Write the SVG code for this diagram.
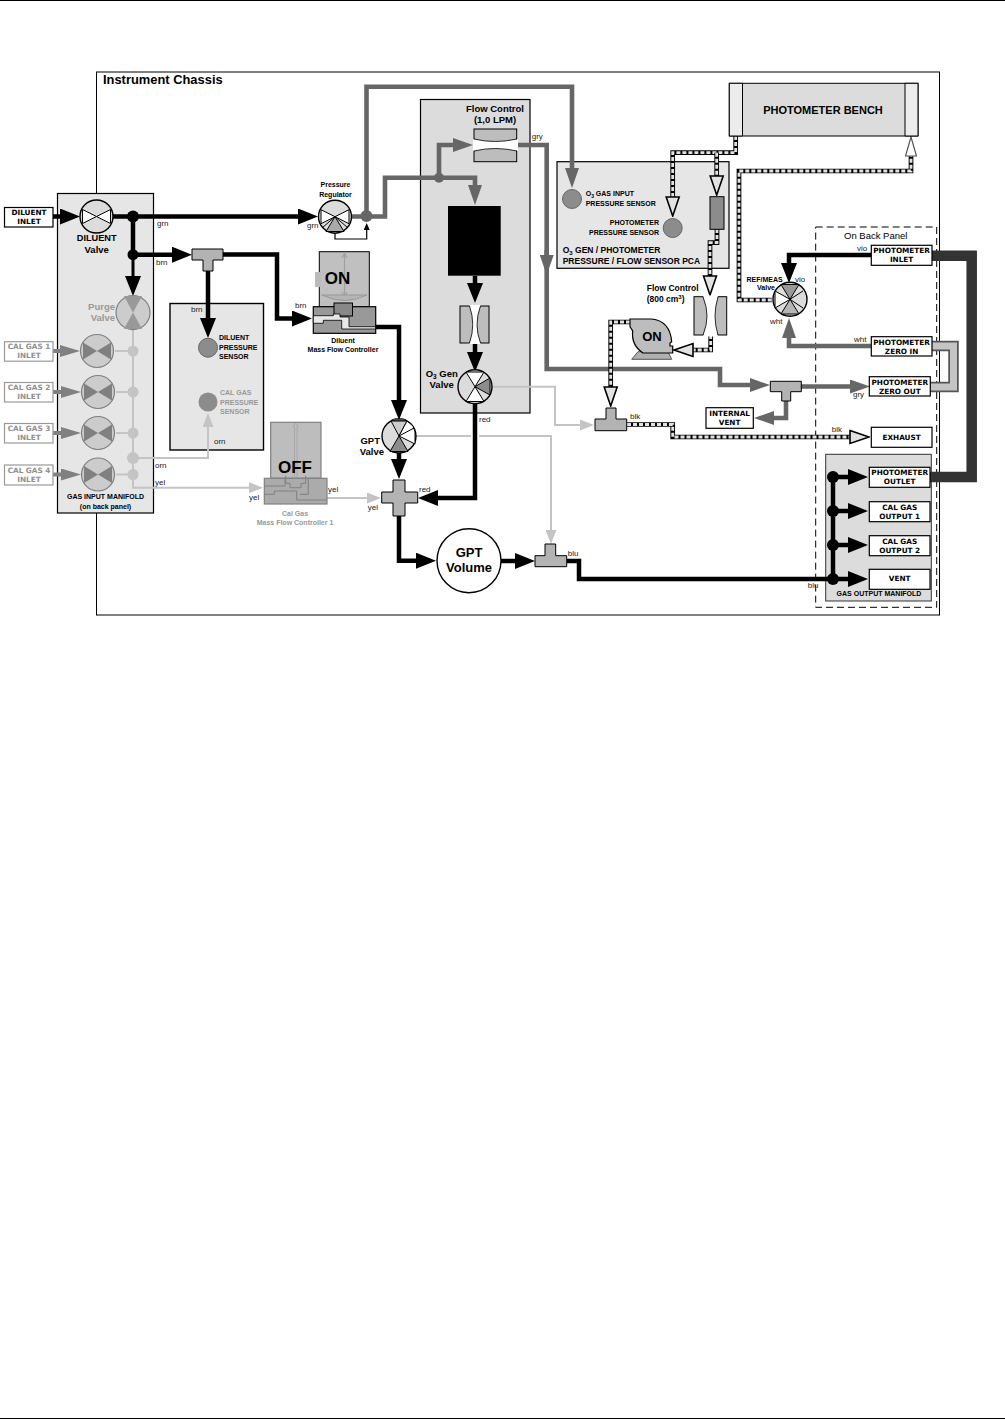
<svg xmlns="http://www.w3.org/2000/svg" xmlns:xlink="http://www.w3.org/1999/xlink" width="1005" height="1420" viewBox="0 0 1005 1420">
<style>
text{font-family:"Liberation Sans",Arial,sans-serif;fill:#000}
.b{font-weight:bold}.m{text-anchor:middle}.e{text-anchor:end}
.s7{font-size:7px}.s8{font-size:8.5px}.s9{font-size:9.5px}.l{font-size:8px;fill:#222}
.v{font-family:"DejaVu Sans",Verdana,sans-serif;font-weight:bold;font-size:7.3px;text-anchor:middle}
.g{fill:#999}.v.g{fill:#909090}
.box{fill:#fff;stroke:#000;stroke-width:1.2}.gbox{fill:#fff;stroke:#999;stroke-width:1.2}
.panel{fill:#e6e6e6;stroke:#000;stroke-width:1.2}.panel2{fill:#dcdcdc;stroke:#000;stroke-width:1.2}
.tee{fill:#b3b3b3;stroke:#000;stroke-width:1}
.k,.kt,.gy,.gc,.lt,.dk,.dl{fill:none}
.k{stroke:#000;stroke-width:4.5}.kt{stroke:#000;stroke-width:3}
.gy{stroke:#666;stroke-width:4.6}.gc{stroke:#808080;stroke-width:4}.lt{stroke:#c4c4c4;stroke-width:2}
.dk{stroke:#000;stroke-width:4.7}.dl{stroke:#e2e2e2;stroke-width:2.8;stroke-dasharray:4 2}
.vc{fill:#dcdcdc;stroke:#000;stroke-width:1.4}.gv{fill:#ccc;stroke:#808080;stroke-width:1.2}
.w{fill:#fff;stroke:#000;stroke-width:1}.fc{fill:#bdbdbd;stroke:#000;stroke-width:1}
.ch{fill:#fff;stroke:none}.cv{fill:none;stroke:#000;stroke-width:.8}
</style>
<defs>
<marker id="ak" markerUnits="userSpaceOnUse" markerWidth="20" markerHeight="16" refX="2" refY="8" orient="auto"><path d="M0,0L20,8L0,16Z" fill="#000"/></marker>
<marker id="ag" markerUnits="userSpaceOnUse" markerWidth="20" markerHeight="14" refX="2" refY="7" orient="auto"><path d="M0,0L20,7L0,14Z" fill="#666"/></marker>
<marker id="ac" markerUnits="userSpaceOnUse" markerWidth="20" markerHeight="12" refX="2" refY="6" orient="auto"><path d="M0,0L20,6L0,12Z" fill="#808080"/></marker>
<marker id="al" markerUnits="userSpaceOnUse" markerWidth="14" markerHeight="11" refX="2" refY="5.5" orient="auto"><path d="M0,0L14,5.5L0,11Z" fill="#c4c4c4"/></marker>
<marker id="ah" markerUnits="userSpaceOnUse" markerWidth="21" markerHeight="16" refX="2" refY="8" orient="auto"><path d="M1,1.5L20,8L1,14.5Z" fill="#e2e2e2" stroke="#000" stroke-width="1.6"/></marker>
<marker id="ab" markerUnits="userSpaceOnUse" markerWidth="21" markerHeight="13" refX="2" refY="6.5" orient="auto"><path d="M1,1L20,6.5L1,12Z" fill="#fff" stroke="#555" stroke-width="1.2"/></marker>
<marker id="as" markerUnits="userSpaceOnUse" markerWidth="7" markerHeight="6" refX="1" refY="3" orient="auto"><path d="M0,0L7,3L0,6Z" fill="#000"/></marker>
<g id="vbow"><circle r="16.5" class="vc"/><path d="M-14,-7L0,0L-14,7Z" class="w"/><path d="M14,-7L0,0L14,7Z" class="w"/></g>
<g id="gbow"><circle r="16.5" class="gv"/><path d="M-14,-8.5L0,0L-14,8.5Z" fill="#808080"/><path d="M14,-8.5L0,0L14,8.5Z" fill="#808080"/></g>
</defs>
<rect width="1005" height="1420" fill="#fff"/>
<path d="M0,0.5H1005M0,1418.5H1005" stroke="#000" stroke-width="1"/>

<g id="chassis"><rect x="96.5" y="72" width="843" height="543" fill="#fff" stroke="#000" stroke-width="1"/><text x="103" y="84" class="b" font-size="12.9">Instrument Chassis</text></g>
<g id="panels">
<rect id="gas-input-manifold" x="57.5" y="193.5" width="96" height="319.5" class="panel"/>
<rect id="sensor-panel" x="170" y="303.5" width="93.5" height="146.5" fill="#e6e6e6" stroke="#000" stroke-width="1.4"/>
<rect id="o3-panel" x="420.5" y="99.5" width="109.5" height="313.5" class="panel2"/>
<rect id="pca-panel" x="557" y="161.7" width="172" height="106.6" class="panel"/>
<rect id="gas-output-manifold" x="825.7" y="454.3" width="105.6" height="146.7" fill="#dcdcdc" stroke="#333" stroke-width="1"/>
<rect id="back-panel" x="815.7" y="227" width="121" height="380.3" fill="none" stroke="#000" stroke-width="1" stroke-dasharray="7 4"/>
<text x="875.7" y="239" class="m" font-size="9.5" fill="#222">On Back Panel</text>
</g>

<g id="connectors">
<path class="lt" d="M133,330V487.7H251" marker-end="url(#al)"/>
<path class="lt" d="M133,458H208V425" marker-end="url(#al)"/>
<path class="lt" d="M115,351H133M116,392H133M116,433H133M116,474.5H133"/>
<path class="lt" d="M492,386.7H555V425H582" marker-end="url(#al)"/>
<path class="lt" d="M416,436H551V532" marker-end="url(#al)"/>
<path class="lt" d="M327,498H369" marker-end="url(#al)"/>
<path class="gc" d="M53,351H62" marker-end="url(#ac)"/>
<path class="gc" d="M53,392H63" marker-end="url(#ac)"/>
<path class="gc" d="M53,433H63" marker-end="url(#ac)"/>
<path class="gc" d="M53,474.5H63" marker-end="url(#ac)"/>
<path class="k" d="M53,216.5H62" marker-end="url(#ak)"/>
<path class="k" d="M113,216.5H300" marker-end="url(#ak)"/>
<path class="k" d="M133,216.5V254.7H174" marker-end="url(#ak)"/>
<path class="kt" d="M133,254V278" marker-end="url(#ak)"/>
<path class="k" d="M208,271V320" marker-end="url(#ak)"/>
<path class="k" d="M223,254.5H277V318.5H294" marker-end="url(#ak)"/>
<path class="k" d="M475,276V285" marker-end="url(#ak)"/>
<path class="k" d="M475,343V354" marker-end="url(#ak)"/>
<path class="k" d="M375,327H399V402" marker-end="url(#ak)"/>
<path class="k" d="M399,453V461" marker-end="url(#ak)"/>
<path fill="none" stroke="#fff" stroke-width="8" d="M475,425V448"/>
<path class="k" d="M475,404V498H436" marker-end="url(#ak)"/>
<path class="k" d="M399,516V560.7H418" marker-end="url(#ak)"/>
<path class="k" d="M501,561H517" marker-end="url(#ak)"/>
<path class="k" d="M567,561H579V579H833"/>
<path class="k" d="M871,255H789V265" marker-end="url(#ak)"/>
<path class="k" d="M833,477V579"/>
<path class="k" d="M833,477H850" marker-end="url(#ak)"/>
<path class="k" d="M833,511H850" marker-end="url(#ak)"/>
<path class="k" d="M833,545H850" marker-end="url(#ak)"/>
<path class="k" d="M833,579H850" marker-end="url(#ak)"/>
<path class="gy" d="M352,216.5H385V177.7H475V187" marker-end="url(#ag)"/>
<path class="gy" d="M366.5,216V86.7H572V170" marker-end="url(#ag)"/>
<path class="gy" d="M439,177.7V145H455" marker-end="url(#ag)"/>
<path class="gy" d="M517,145H546.7V369H720V385H752" marker-end="url(#ag)"/>
<path class="gy" d="M546.7,250V257" marker-end="url(#ag)"/>
<path class="gy" d="M801,386.5H852" marker-end="url(#ag)"/>
<path class="gy" d="M786,401V418H772" marker-end="url(#ag)"/>
<path class="gy" d="M871,346H789V336" marker-end="url(#ag)"/>
<path fill="none" stroke="#000" stroke-width="1.2" d="M335,232V239H366.7V229" marker-end="url(#as)"/>
<g id="dashed-lines">
<path class="dk" d="M627,424.5H672.7V437H851"/><path class="dl" d="M627,424.5H672.7V437H851" marker-end="url(#ah)"/>
<path class="dk" d="M630,322H610.7V388"/><path class="dl" d="M630,322H610.7V388" marker-end="url(#ah)"/>
<path class="dk" d="M710.7,335V350H692"/><path class="dl" d="M710.7,335V350H692" marker-end="url(#ah)"/>
<path class="dk" d="M735.7,136V152.7H672.7V198"/><path class="dl" d="M735.7,136V152.7H672.7V198" marker-end="url(#ah)"/>
<path class="dk" d="M716.7,152.7V177"/><path class="dl" d="M716.7,152.7V177" marker-end="url(#ah)"/>
<path class="dk" d="M717,229V242.7H710V277"/><path class="dl" d="M717,229V242.7H710V277" marker-end="url(#ah)"/>
<path class="dk" d="M771.7,300H739V171H911V155"/><path class="dl" d="M771.7,300H739V171H911V155" marker-end="url(#ab)"/>
</g>
<path id="photometer-tube" fill="none" stroke="#333" stroke-width="10.5" d="M932,255.7H971.7V477H930"/>
<path fill="none" stroke="#555" stroke-width="10.5" d="M932,346H953.5V387H930"/>
<path fill="none" stroke="#c4c4c4" stroke-width="7" d="M932,346H953.5V387H930"/>
</g>

<g id="diluent-inlet"><rect x="4.5" y="207.5" width="48.5" height="19.5" class="box"/><text x="29" y="214.5" class="v">DILUENT</text><text x="29" y="223.5" class="v">INLET</text></g>
<g id="diluent-valve"><use xlink:href="#vbow" href="#vbow" x="96.5" y="216.5"/><text x="96.7" y="241" class="b m" font-size="9.2">DILUENT</text><text x="96.7" y="253" class="b m s9">Valve</text></g>
<g id="dots"><circle cx="133" cy="216.5" r="6"/><circle cx="133" cy="254.7" r="5.5"/>
<g fill="#c4c4c4"><circle cx="133" cy="351" r="5.5"/><circle cx="133" cy="392" r="5.5"/><circle cx="133" cy="433" r="5.5"/><circle cx="133" cy="458" r="6"/><circle cx="133" cy="474.5" r="5.5"/></g>
<circle cx="366.5" cy="216" r="6" fill="#666"/><circle cx="439" cy="177.7" r="5" fill="#666"/>
<circle cx="833" cy="477" r="6"/><circle cx="833" cy="511" r="6"/><circle cx="833" cy="545" r="6"/><circle cx="833" cy="579" r="6"/></g>
<g id="purge-valve"><circle cx="133" cy="312.6" r="17" class="gv"/><path d="M124,296L133,312.6L142,296ZM124,329L133,312.6L142,329Z" fill="#999"/><text x="115" y="310" class="b e s9 g">Purge</text><text x="115" y="321" class="b e s9 g">Valve</text></g>
<g id="cal-gas-1"><rect x="4.5" y="341.7" width="48.5" height="19.5" class="gbox"/><text x="29" y="349" class="v g">CAL GAS 1</text><text x="29" y="358" class="v g">INLET</text><use xlink:href="#gbow" href="#gbow" x="97" y="351"/></g>
<g id="cal-gas-2"><rect x="4.5" y="382.5" width="48.5" height="19.5" class="gbox"/><text x="29" y="390" class="v g">CAL GAS 2</text><text x="29" y="399" class="v g">INLET</text><use xlink:href="#gbow" href="#gbow" x="98" y="392"/></g>
<g id="cal-gas-3"><rect x="4.5" y="423.5" width="48.5" height="19.5" class="gbox"/><text x="29" y="431" class="v g">CAL GAS 3</text><text x="29" y="440" class="v g">INLET</text><use xlink:href="#gbow" href="#gbow" x="98" y="433"/></g>
<g id="cal-gas-4"><rect x="4.5" y="465" width="48.5" height="20" class="gbox"/><text x="29" y="472.5" class="v g">CAL GAS 4</text><text x="29" y="481.5" class="v g">INLET</text><use xlink:href="#gbow" href="#gbow" x="98" y="474.5"/></g>
<text x="105.5" y="499" class="b m s7">GAS INPUT MANIFOLD</text><text x="105.5" y="509" class="b m s7">(on back panel)</text>

<g id="tee-1"><path d="M192,249H223V260H213V271H203V260H192Z" class="tee"/></g>
<g id="diluent-sensor"><circle cx="208" cy="347.7" r="9.5" fill="#8c8c8c" stroke="#666"/><text x="219" y="340" class="b s7">DILUENT</text><text x="219" y="349.5" class="b s7">PRESSURE</text><text x="219" y="358.5" class="b s7">SENSOR</text></g>
<g id="calgas-sensor"><circle cx="208" cy="402" r="9.5" fill="#8c8c8c"/><text x="220" y="395" class="b s7 g">CAL GAS</text><text x="220" y="404.5" class="b s7 g">PRESSURE</text><text x="220" y="414" class="b s7 g">SENSOR</text></g>

<g id="pressure-regulator"><use xlink:href="#vbow" href="#vbow" x="335" y="216.7"/><path d="M335,216.7L326,231.5H344Z" fill="#aaa" stroke="#000"/><path d="M335,216.7L322,228M335,216.7L348,228" stroke="#000"/><text x="335.5" y="187" class="b m s7">Pressure</text><text x="335.5" y="197" class="b m s7">Regulator</text></g>

<g id="diluent-mfc">
<rect x="319.3" y="251.7" width="50" height="55.5" fill="#c0c0c0" stroke="#000"/>
<rect x="315" y="272" width="6" height="15" fill="#bbb"/>
<path d="M344.5,255V296M342,258L344.5,253L347,258M342,292L344.5,297L347,292" fill="none" stroke="#a0a0a0" stroke-width="1.2"/>
<path d="M321.7,295H367Q345,306 321.7,295Z" fill="#b5b5b5" stroke="#999"/>
<text x="337.5" y="284" class="b m" font-size="17">ON</text>
<rect x="313.3" y="306.7" width="62.4" height="26.6" fill="#999" stroke="#000" stroke-width="1.2"/>
<rect x="334" y="303" width="18.5" height="13" fill="#888" stroke="#000"/>
<path d="M313.3,315.7H333.3V314H340V317H349V326.7H375.5V329H341.7V320.3H323.3V323.3H313.3Z" fill="#e8e8e8" stroke="#000" stroke-width=".8"/>
<text x="343" y="343" class="b m s7">Diluent</text><text x="343" y="352" class="b m s7">Mass Flow Controller</text>
</g>

<g id="cal-mfc">
<rect x="270.7" y="422.3" width="50.3" height="56" fill="#bdbdbd" stroke="#808080" stroke-width="1.2"/>
<path d="M294.5,478V427H293L295.7,423L298.4,427H297V478" fill="none" stroke="#a8a8a8"/>
<rect x="264.3" y="478.3" width="62.7" height="25.7" fill="#ababab" stroke="#808080" stroke-width="1.2"/>
<path d="M285.7,475.7V483.3H290V487.7H301V483.3H305.7V475.7M264.3,486H285V478.3M264.3,494.3H274.3V491H296.7V500H327M300,494.3H308.3V478.3" fill="none" stroke="#808080"/>
<text x="295" y="472.5" class="b m" font-size="17">OFF</text>
<text x="295" y="516" class="b m s7 g">Cal Gas</text><text x="295" y="525" class="b m s7 g">Mass Flow Controller 1</text>
</g>

<g id="flow-control-1"><rect x="474" y="129" width="42.7" height="32.7" class="fc"/><path d="M473,139Q495,144 518,139V151Q495,146 473,151Z" class="ch"/><path d="M474,139Q495,144 517,139M474,151Q495,146 517,151" class="cv"/><text x="495" y="111.7" class="b m s9">Flow Control</text><text x="495" y="122.7" class="b m s9">(1,0 LPM)</text></g>
<rect id="o3-generator" x="448" y="206" width="52.7" height="69.7" fill="#000"/>
<g id="restrictor"><rect x="460" y="306" width="29" height="37" class="fc"/><path d="M469.5,305Q476,324.5 469.5,344H480.5Q473.5,324.5 480.5,305Z" class="ch"/><path d="M469.5,306Q476,324.5 469.5,343M480.5,306Q473.5,324.5 480.5,343" class="cv"/></g>

<g id="o3-valve"><circle cx="475" cy="386.7" r="17" class="vc"/><path d="M475,386.7L466,372H484Z" class="w"/><path d="M475,386.7L466,401.5H484Z" class="w"/><path d="M475,386.7L490,378V395Z" fill="#8c8c8c" stroke="#000"/><text x="441.7" y="376.7" class="b m s9">O<tspan font-size="6.5" dy="2">3</tspan><tspan dy="-2"> Gen</tspan></text><text x="441.7" y="387.5" class="b m s9">Valve</text></g>
<g id="gpt-valve"><circle cx="399" cy="436" r="17" class="vc"/><path d="M399,436L391,421H407Z" fill="#ccc" stroke="#000"/><path d="M391,420.5H407L404,419H394Z" fill="#666" stroke="#000" stroke-width=".6"/><path d="M399,436L407,421L413,426L415,432V444L399,436Z" class="w"/><path d="M399,436L414,428" stroke="#000"/><path d="M399,436L390,451.5H408Z" fill="#8c8c8c" stroke="#000"/><text x="380" y="444" class="b e s9">GPT</text><text x="384" y="455" class="b e s9">Valve</text></g>
<g id="cross"><path d="M393,480H405V492H417.7V503H405V516H393V503H381.7V492H393Z" class="tee"/></g>
<g id="gpt-volume"><circle cx="469" cy="560.7" r="32" fill="#fff" stroke="#000" stroke-width="1.4"/><text x="469" y="556.5" class="b m" font-size="13">GPT</text><text x="469" y="572" class="b m" font-size="13">Volume</text></g>
<g id="tee-blu"><path d="M545,544H555.7V555.7H566.7V566.7H535V555.7H545Z" class="tee"/></g>
<g id="tee-blk"><path d="M606,408H616V419H626.7V430.7H595V419H606Z" class="tee"/></g>
<g id="tee-gry"><path d="M770.3,381.3H801.3V391.7H790.7V401H781.7V391.7H770.3Z" class="tee"/></g>

<g id="o3-sensor"><circle cx="572" cy="199" r="9.5" fill="#8c8c8c" stroke="#666"/><text x="585.7" y="196" class="b s7">O<tspan font-size="5" dy="1.5">3</tspan><tspan dy="-1.5"> GAS INPUT</tspan></text><text x="585.7" y="205.5" class="b s7">PRESSURE SENSOR</text></g>
<g id="photometer-sensor"><circle cx="672.7" cy="228" r="9.5" fill="#8c8c8c" stroke="#666"/><text x="659" y="225" class="b e s7">PHOTOMETER</text><text x="659" y="234.5" class="b e s7">PRESSURE SENSOR</text></g>
<text x="562.7" y="252.7" class="b s8">O<tspan font-size="6" dy="2">3</tspan><tspan dy="-2"> GEN / PHOTOMETER</tspan></text><text x="562.7" y="263.5" class="b s8">PRESSURE / FLOW SENSOR PCA</text>
<rect id="flow-sensor" x="710" y="196.7" width="14" height="32.6" fill="#8c8c8c" stroke="#000"/>

<g id="flow-control-2"><rect x="694" y="296.7" width="32.7" height="38.3" class="fc"/><path d="M703,295.5Q711,316 703,336.5H718Q712,316 718,295.5Z" class="ch"/><path d="M703,297Q711,316 703,335M718,297Q712,316 718,335" class="cv"/><text x="646.7" y="290.7" class="b s8">Flow Control</text><text x="646.7" y="302" class="b s8">(800 cm<tspan font-size="6" dy="-3">3</tspan><tspan dy="3">)</tspan></text></g>
<g id="pump"><path d="M631.7,359.3L638,351.7H668L671.7,359.3Z" fill="#b0b0b0" stroke="#555"/><path d="M630,319H651.7Q670,321 671.7,341.7L670,343V346L672.7,346V353H643Q631,345 632.7,331L630,326.7Z" fill="#bdbdbd" stroke="#000" stroke-width="1.2"/><text x="652" y="341" class="b m" font-size="13">ON</text></g>

<g id="photometer-bench"><rect x="729.3" y="83.3" width="188.7" height="52.7" fill="#dcdcdc" stroke="#000"/><path d="M729.3,83.3H742.5V136H729.3ZM905,83.3H918V136H905Z" fill="#ececec" stroke="#000"/><text x="823" y="114" class="b m" font-size="11">PHOTOMETER BENCH</text></g>

<g id="ref-meas-valve"><circle cx="790" cy="299.3" r="17" class="vc"/><path d="M790,299.3L781,284.5H799Z" fill="#999" stroke="#000"/><path d="M790,299.3L781,314H799Z" fill="#b5b5b5" stroke="#000"/><path d="M790,299.3L775,291V308Z" class="w"/><path d="M790,299.3L803,291M790,299.3L803,308" stroke="#000"/><text x="782.7" y="281.7" class="b e s7">REF/MEAS</text><text x="775" y="289.5" class="b e s7">Valve</text></g>

<g id="photometer-inlet"><rect x="871.3" y="245.3" width="60.7" height="20" class="box"/><text x="901.6" y="253" class="v">PHOTOMETER</text><text x="901.6" y="262" class="v">INLET</text></g>
<g id="zero-in"><rect x="871.3" y="336.7" width="60.7" height="19.3" class="box"/><text x="901.6" y="344.5" class="v">PHOTOMETER</text><text x="901.6" y="353.5" class="v">ZERO IN</text></g>
<g id="zero-out"><rect x="869.3" y="376.7" width="61" height="19.3" class="box"/><text x="899.8" y="384.5" class="v">PHOTOMETER</text><text x="899.8" y="393.5" class="v">ZERO OUT</text></g>
<g id="exhaust"><rect x="871.3" y="427.3" width="60.7" height="20" class="box"/><text x="901.6" y="440" class="v">EXHAUST</text></g>
<g id="internal-vent"><rect x="706" y="407.7" width="47.3" height="20.6" class="box"/><text x="729.6" y="415.5" class="v">INTERNAL</text><text x="729.6" y="425" class="v">VENT</text></g>
<g id="photometer-outlet"><rect x="869.3" y="467.3" width="60.7" height="20" class="box"/><text x="899.7" y="475" class="v">PHOTOMETER</text><text x="899.7" y="484" class="v">OUTLET</text></g>
<g id="output-1"><rect x="869.3" y="501.7" width="60.7" height="20" class="box"/><text x="899.7" y="509.5" class="v">CAL GAS</text><text x="899.7" y="518.5" class="v">OUTPUT 1</text></g>
<g id="output-2"><rect x="869.3" y="535.7" width="60.7" height="20" class="box"/><text x="899.7" y="543.5" class="v">CAL GAS</text><text x="899.7" y="552.5" class="v">OUTPUT 2</text></g>
<g id="vent"><rect x="869.3" y="569.3" width="60.7" height="20" class="box"/><text x="899.7" y="581" class="v">VENT</text></g>
<text x="879" y="596" class="b m s7">GAS OUTPUT MANIFOLD</text>

<g id="labels">
<text x="157" y="226" class="l">grn</text><text x="156" y="265" class="l">brn</text><text x="155" y="468" class="l">orn</text><text x="155" y="485" class="l">yel</text>
<text x="191" y="312" class="l">brn</text><text x="214" y="444" class="l">orn</text><text x="249" y="500" class="l">yel</text>
<text x="307" y="228" class="l">grn</text><text x="295" y="308" class="l">brn</text><text x="531.7" y="139" class="l">gry</text>
<text x="795" y="281.7" class="l">vio</text><text x="857" y="251" class="l">vio</text><text x="770" y="324" class="l">wht</text><text x="854" y="341.7" class="l">wht</text>
<text x="853" y="397" class="l">gry</text><text x="831.7" y="431.7" class="l">blk</text><text x="630" y="419" class="l">blk</text>
<text x="479" y="421.7" class="l">red</text><text x="419" y="491.7" class="l">red</text><text x="328" y="491.7" class="l">yel</text><text x="367.7" y="510" class="l">yel</text>
<text x="567.7" y="555.7" class="l">blu</text><text x="807.7" y="588" class="l">blu</text>
</g>
</svg>
